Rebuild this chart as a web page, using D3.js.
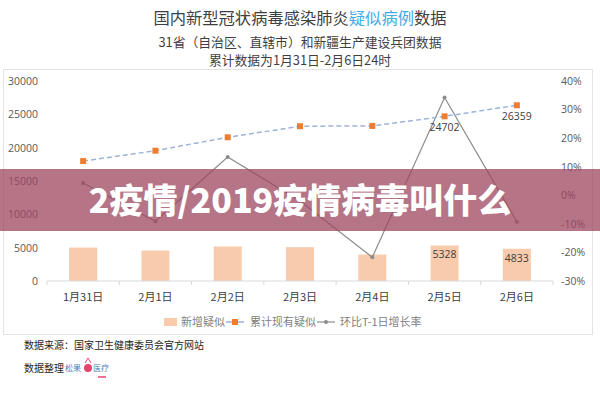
<!DOCTYPE html>
<html><head><meta charset="utf-8">
<script src="https://cdn.jsdelivr.net/npm/d3@7/dist/d3.min.js"></script>
<style>body{margin:0;background:#fff}svg{display:block}</style>
</head><body>
<svg id="c" width="600" height="400"></svg>
<script>
const categories = ["1月31日","2月1日","2月2日","2月3日","2月4日","2月5日","2月6日"];
const newSuspected = [5019, 4562, 5173, 5072, 3971, 5328, 4833];
const cumulativeSuspected = [17988, 19544, 21558, 23214, 23260, 24702, 26359];
const growthRate = [0.043, -0.091, 0.134, -0.020, -0.217, 0.342, -0.093];
const leftTicks = [0, 5000, 10000, 15000, 20000, 25000, 30000];
const rightTicks = [-0.3, -0.2, -0.1, 0, 0.1, 0.2, 0.3, 0.4];
const barLabelIdx = [5, 6];
const lineLabelIdx = [5, 6];

const svg = d3.select("#c");
const font = "'Noto Sans CJK SC','Noto Sans',sans-serif";
const numFont = "'Open Sans','Liberation Sans',sans-serif";

// frame
svg.append("rect").attr("x",3.5).attr("y",69.5).attr("width",589).attr("height",265)
  .attr("fill","none").attr("stroke","#e3e3e3");

// titles
const t1 = svg.append("text").attr("x",300).attr("y",24).attr("text-anchor","middle")
  .attr("font-family",font).attr("font-size",16.3).attr("fill","#3f3f3f");
t1.append("tspan").text("国内新型冠状病毒感染肺炎");
t1.append("tspan").attr("fill","#41ace6").text("疑似病例");
t1.append("tspan").text("数据");
svg.append("text").attr("x",300).attr("y",46.5).attr("text-anchor","middle")
  .attr("font-family",font).attr("font-size",12.8).attr("fill","#3f3f3f")
  .text("31省（自治区、直辖市）和新疆生产建设兵团数据");
svg.append("text").attr("x",300).attr("y",65).attr("text-anchor","middle")
  .attr("font-family",font).attr("font-size",12.8).attr("fill","#3f3f3f")
  .text("累计数据为1月31日-2月6日24时");

const x = d3.scaleBand().domain(categories).range([47,553]);
const yL = d3.scaleLinear().domain([0,30000]).range([281,81]);
const yR = d3.scaleLinear().domain([-0.3,0.4]).range([281,81]);

// left axis
const gL = svg.append("g").attr("transform","translate(41,0)")
  .call(d3.axisLeft(yL).tickValues(leftTicks).tickSize(0).tickPadding(3).tickFormat(d3.format("d")));
gL.select(".domain").remove();
gL.selectAll("text").attr("font-family",numFont).attr("font-size",10.5).attr("fill","#595959");

// right axis
const gR = svg.append("g").attr("transform","translate(559,0)")
  .call(d3.axisRight(yR).tickValues(rightTicks).tickSize(0).tickPadding(2)
    .tickFormat(d => Math.round(d*100)+"%"));
gR.select(".domain").remove();
gR.selectAll("text").attr("font-family",numFont).attr("font-size",10.5).attr("fill","#595959");

// bars
svg.append("g").selectAll("rect").data(newSuspected).join("rect")
  .attr("x",(d,i)=>x(categories[i])+x.bandwidth()/2-14)
  .attr("width",28)
  .attr("y",d=>yL(d)).attr("height",d=>yL(0)-yL(d))
  .attr("fill","#f8cbad");

// x axis
const gX = svg.append("g").attr("transform","translate(0,281)");
gX.append("line").attr("x1",47).attr("x2",553).attr("stroke","#d9d9d9");
const bounds = categories.map(c=>x(c)).concat([553]);
gX.selectAll(".tk").data(bounds).join("line").attr("class","tk")
  .attr("x1",d=>d).attr("x2",d=>d).attr("y1",0).attr("y2",4).attr("stroke","#d9d9d9");
gX.selectAll(".lb").data(categories).join("text").attr("class","lb")
  .attr("x",d=>x(d)+x.bandwidth()/2).attr("y",20).attr("text-anchor","middle")
  .attr("font-family",font).attr("font-size",11).attr("fill","#404040").text(d=>d);

// bar labels
svg.append("g").selectAll("text").data(barLabelIdx).join("text")
  .attr("x",i=>x(categories[i])+x.bandwidth()/2).attr("y",i=>yL(newSuspected[i])+13)
  .attr("text-anchor","middle").attr("font-family",numFont).attr("font-size",10.5).attr("fill","#404040")
  .text(i=>newSuspected[i]);

const cx = i => x(categories[i])+x.bandwidth()/2;

// growth line
svg.append("path").datum(growthRate)
  .attr("d",d3.line().x((d,i)=>cx(i)).y(d=>yR(d)))
  .attr("fill","none").attr("stroke","#8c8c8c").attr("stroke-width",1.2);
svg.append("g").selectAll("circle").data(growthRate).join("circle")
  .attr("cx",(d,i)=>cx(i)).attr("cy",d=>yR(d)).attr("r",2).attr("fill","#8c8c8c");

// cumulative line
svg.append("path").datum(cumulativeSuspected)
  .attr("d",d3.line().x((d,i)=>cx(i)).y(d=>yL(d)))
  .attr("fill","none").attr("stroke","#9db3d9").attr("stroke-width",1.5).attr("stroke-dasharray","5,3");
svg.append("g").selectAll("rect").data(cumulativeSuspected).join("rect")
  .attr("x",(d,i)=>cx(i)-3).attr("y",d=>yL(d)-3).attr("width",6).attr("height",6).attr("fill","#ed7d31");
svg.append("g").selectAll("text").data(lineLabelIdx).join("text")
  .attr("x",i=>cx(i)).attr("y",i=>yL(cumulativeSuspected[i])+15)
  .attr("text-anchor","middle").attr("font-family",numFont).attr("font-size",10.5).attr("fill","#404040")
  .text(i=>cumulativeSuspected[i]);

// legend
const lg = svg.append("g").attr("font-family",font).attr("font-size",11).attr("fill","#7f7f7f");
lg.append("rect").attr("x",164).attr("y",318).attr("width",13).attr("height",8).attr("fill","#f8cbad");
lg.append("text").attr("x",181).attr("y",326).text("新增疑似");
lg.append("line").attr("x1",226).attr("x2",244).attr("y1",322).attr("y2",322).attr("stroke","#9db3d9").attr("stroke-width",1.5);
lg.append("rect").attr("x",232).attr("y",319).attr("width",6).attr("height",6).attr("fill","#ed7d31");
lg.append("text").attr("x",250).attr("y",326).text("累计现有疑似");
lg.append("line").attr("x1",317).attr("x2",335).attr("y1",322).attr("y2",322).attr("stroke","#8c8c8c").attr("stroke-width",1.2);
lg.append("circle").attr("cx",326).attr("cy",322).attr("r",2).attr("fill","#8c8c8c");
lg.append("text").attr("x",340).attr("y",326).text("环比T-1日增长率");

// source
svg.append("text").attr("x",24).attr("y",349).attr("font-family",font).attr("font-size",10)
  .attr("fill","#262626").text("数据来源：国家卫生健康委员会官方网站");
svg.append("text").attr("x",24).attr("y",372).attr("font-family",font).attr("font-size",10)
  .attr("fill","#262626").text("数据整理");
const logo = svg.append("g");
logo.append("text").attr("x",65).attr("y",371).attr("font-family",font).attr("font-size",8).attr("fill","#4a7fc0").text("松果");
logo.append("circle").attr("cx",88).attr("cy",368).attr("r",4).attr("fill","#e8436e");
logo.append("path").attr("d","M85,363 L88,358 L91,363").attr("fill","none").attr("stroke","#e8436e");
logo.append("text").attr("x",93).attr("y",371).attr("font-family",font).attr("font-size",8).attr("fill","#4a7fc0").text("医疗");
logo.append("line").attr("x1",98).attr("x2",106).attr("y1",377).attr("y2",377).attr("stroke","#e8436e").attr("stroke-width",1.5);

// watermark band
svg.append("rect").attr("x",0).attr("y",169).attr("width",600).attr("height",62)
  .attr("fill","rgb(158,70,95)").attr("opacity",0.75);
svg.append("text").attr("x",300).attr("y",213).attr("text-anchor","middle")
  .attr("font-family","'Noto Sans CJK SC',sans-serif").attr("font-weight","900").attr("font-size",34)
  .attr("fill","#fff").text("2疫情/2019疫情病毒叫什么");
</script>
</body></html>
